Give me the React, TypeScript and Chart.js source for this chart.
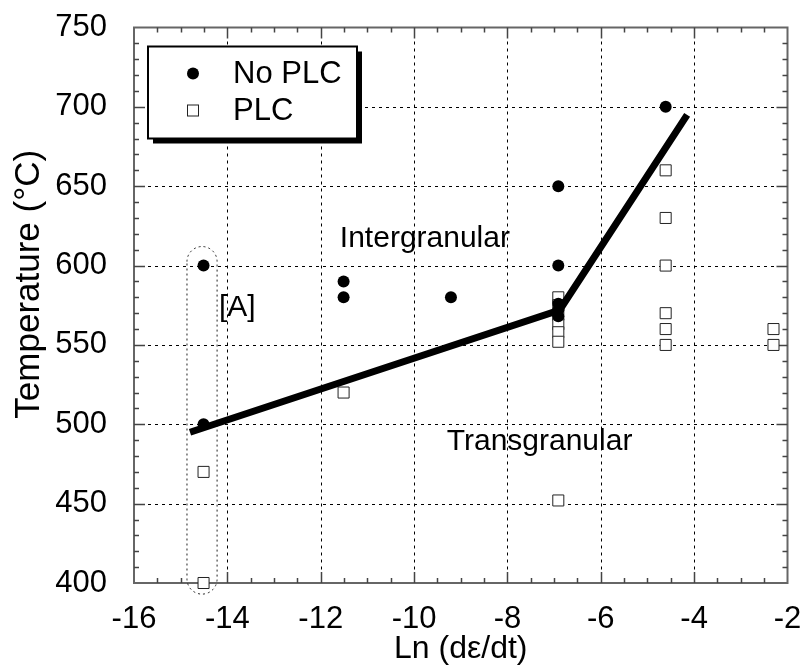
import React, { useEffect, useRef } from "react";
import { Chart, registerables } from "chart.js";

Chart.register(...registerables);

// ---- data ----
const noPlcX = [-14.51, -14.51, -11.51, -11.51, -9.21, -6.91, -6.91, -6.91, -6.91, -6.91, -4.61];
const noPlcY = [600, 500, 590, 580, 580, 650, 600, 576, 572, 568, 700];

const plcX = [-14.51, -14.51, -11.51, -6.91, -6.91, -6.91, -6.91, -6.91, -6.91, -6.91, -4.61, -4.61, -4.61, -4.61, -4.61, -4.61, -2.3, -2.3];
const plcY = [470, 400, 520, 580, 575, 569, 563, 558, 552, 452, 660, 630, 600, 570, 560, 550, 560, 550];

const boundaryX = [-14.8, -6.88, -4.15];
const boundaryY = [495, 572, 695];

const xTicks = { min: -16, max: -2, step: 2, minor: 0.5 };
const yTicks = { min: 400, max: 750, step: 50, minor: 10 };

const regionLabels = [
  { text: "Intergranular", x: -11.59, y: 612 },
  { text: "Transgranular", x: -9.3, y: 484 },
  { text: "[A]", x: -14.18, y: 568 },
];
// bounding region [A] in data units: x0, x1, y0, y1
const regionA = { x0: -14.865, x1: -14.22, y0: 393, y1: 612 };

const legendItems = ["No PLC", "PLC"];
const xTitle = "Ln (d\u03b5/dt)";
const yTitle = "Temperature (\u00b0C)";

const FONT = "'Liberation Sans', Arial, sans-serif";

const toPts = (xs: number[], ys: number[]) => xs.map((x, i) => ({ x, y: ys[i] }));

const decorPlugin = {
  id: "decor",
  beforeDatasetsDraw(chart: any) {
    const { ctx, chartArea: a, scales } = chart;
    const xs = scales.x, ys = scales.y;
    ctx.save();
    // dotted grid
    ctx.strokeStyle = "#000";
    ctx.lineWidth = 1;
    ctx.setLineDash([3, 4]);
    for (let v = xTicks.min + xTicks.step; v < xTicks.max - 1e-9; v += xTicks.step) {
      const px = Math.round(xs.getPixelForValue(v)) + 0.5;
      ctx.beginPath();
      ctx.moveTo(px, a.top);
      ctx.lineTo(px, a.bottom);
      ctx.stroke();
    }
    for (let v = yTicks.min + yTicks.step; v < yTicks.max - 1e-9; v += yTicks.step) {
      const py = Math.round(ys.getPixelForValue(v)) + 0.5;
      ctx.beginPath();
      ctx.moveTo(a.left, py);
      ctx.lineTo(a.right, py);
      ctx.stroke();
    }
    ctx.setLineDash([]);
    // frame
    ctx.strokeStyle = "#666";
    ctx.lineWidth = 2;
    ctx.strokeRect(a.left, a.top, a.right - a.left, a.bottom - a.top);
    // ticks
    ctx.lineWidth = 1.5;
    ctx.strokeStyle = "#444";
    const nx = Math.round((xTicks.max - xTicks.min) / xTicks.minor);
    for (let i = 1; i < nx; i++) {
      const v = xTicks.min + i * xTicks.minor;
      const major = Math.abs(v / xTicks.step - Math.round(v / xTicks.step)) < 1e-6;
      const len = major ? 11 : 5;
      const px = Math.round(xs.getPixelForValue(v)) + 0.5;
      ctx.beginPath();
      ctx.moveTo(px, a.bottom);
      ctx.lineTo(px, a.bottom - len);
      ctx.moveTo(px, a.top);
      ctx.lineTo(px, a.top + len);
      ctx.stroke();
    }
    const ny = Math.round((yTicks.max - yTicks.min) / yTicks.minor);
    for (let i = 1; i < ny; i++) {
      const v = yTicks.min + i * yTicks.minor;
      const major = Math.abs(v / yTicks.step - Math.round(v / yTicks.step)) < 1e-6;
      const len = major ? 11 : 5;
      const py = Math.round(ys.getPixelForValue(v)) + 0.5;
      ctx.beginPath();
      ctx.moveTo(a.left, py);
      ctx.lineTo(a.left + len, py);
      ctx.moveTo(a.right, py);
      ctx.lineTo(a.right - len, py);
      ctx.stroke();
    }
    // region [A] dotted rounded box
    const rx0 = xs.getPixelForValue(regionA.x0);
    const rx1 = xs.getPixelForValue(regionA.x1);
    const ry0 = ys.getPixelForValue(regionA.y1);
    const ry1 = ys.getPixelForValue(regionA.y0);
    const r = (rx1 - rx0) / 2;
    ctx.strokeStyle = "#222";
    ctx.lineWidth = 1;
    ctx.setLineDash([2, 3]);
    ctx.beginPath();
    ctx.moveTo(rx0, ry0 + r);
    ctx.arc(rx0 + r, ry0 + r, r, Math.PI, 0);
    ctx.lineTo(rx1, ry1 - r);
    ctx.arc(rx0 + r, ry1 - r, r, 0, Math.PI);
    ctx.closePath();
    ctx.stroke();
    ctx.setLineDash([]);
    ctx.restore();
  },
  afterDatasetsDraw(chart: any) {
    const { ctx, chartArea: a, scales } = chart;
    const xs = scales.x, ys = scales.y;
    ctx.save();
    // region labels
    ctx.fillStyle = "#000";
    ctx.textAlign = "left";
    ctx.textBaseline = "alphabetic";
    ctx.font = `30px ${FONT}`;
    regionLabels.forEach((l) => {
      ctx.fillText(l.text, xs.getPixelForValue(l.x), ys.getPixelForValue(l.y));
    });
    // legend box
    const bx = a.left + 14, by = a.top + 19, bw = 209, bh = 92;
    ctx.fillStyle = "#000";
    ctx.fillRect(bx + 5, by + 5, bw, bh);
    ctx.fillStyle = "#fff";
    ctx.fillRect(bx, by, bw, bh);
    ctx.strokeStyle = "#000";
    ctx.lineWidth = 2;
    ctx.strokeRect(bx, by, bw, bh);
    // legend markers
    ctx.beginPath();
    ctx.arc(bx + 45, by + 27, 6, 0, Math.PI * 2);
    ctx.fillStyle = "#000";
    ctx.fill();
    ctx.lineWidth = 1;
    ctx.strokeStyle = "#222";
    ctx.strokeRect(bx + 39.5, by + 58.5, 11, 11);
    ctx.font = `31px ${FONT}`;
    ctx.textBaseline = "middle";
    ctx.fillStyle = "#000";
    ctx.fillText(legendItems[0], bx + 85, by + 28);
    ctx.fillText(legendItems[1], bx + 85, by + 65);
    // axis titles
    ctx.font = `32px ${FONT}`;
    ctx.textAlign = "center";
    ctx.fillText(xTitle, (a.left + a.right) / 2, a.bottom + 66);
    ctx.save();
    ctx.translate(29, (a.top + a.bottom) / 2 - 21);
    ctx.rotate(-Math.PI / 2);
    ctx.font = `35px ${FONT}`;
    ctx.fillText(yTitle, 0, 0);
    ctx.restore();
    ctx.restore();
  },
};

export default function App() {
  const ref = useRef<HTMLCanvasElement>(null);
  useEffect(() => {
    if (!ref.current) return;
    const chart = new Chart(ref.current, {
      type: "scatter",
      data: {
        datasets: [
          {
            label: "boundary",
            data: toPts(boundaryX, boundaryY),
            showLine: true,
            borderColor: "#000",
            borderWidth: 7,
            borderCapStyle: "butt",
            borderJoinStyle: "miter",
            pointRadius: 0,
            order: 0,
            clip: false,
          } as any,
          {
            label: "No PLC",
            data: toPts(noPlcX, noPlcY),
            pointStyle: "circle",
            pointRadius: 6,
            backgroundColor: "#000",
            borderColor: "#000",
            borderWidth: 0,
            order: 1,
            clip: false,
          } as any,
          {
            label: "PLC",
            data: toPts(plcX, plcY),
            pointStyle: "rect",
            pointRadius: 7.8,
            backgroundColor: "#fff",
            borderColor: "#222",
            borderWidth: 1,
            order: 2,
            clip: false,
          } as any,
        ],
      },
      options: {
        animation: false,
        responsive: true,
        maintainAspectRatio: false,
        layout: { padding: { top: 27.5, right: 13.5, left: 0, bottom: 0 } },
        plugins: { legend: { display: false }, tooltip: { enabled: false } },
        scales: {
          x: {
            type: "linear",
            min: xTicks.min,
            max: xTicks.max,
            grid: { display: false },
            border: { display: false },
            ticks: {
              stepSize: xTicks.step,
              color: "#000",
              padding: 10,
              font: { family: FONT, size: 31 },
              maxRotation: 0,
            },
            afterFit: (s: any) => {
              s.height = 82;
              s.paddingLeft = 0;
              s.paddingRight = 0;
            },
          },
          y: {
            type: "linear",
            min: yTicks.min,
            max: yTicks.max,
            grid: { display: false },
            border: { display: false },
            ticks: {
              stepSize: yTicks.step,
              color: "#000",
              padding: 19,
              font: { family: FONT, size: 31 },
            },
            afterFit: (s: any) => {
              s.width = 134;
              s.paddingTop = 0;
              s.paddingBottom = 0;
            },
          },
        },
      },
      plugins: [decorPlugin],
    });
    return () => chart.destroy();
  }, []);
  return (
    <div style={{ position: "fixed", left: 0, top: 0, width: 801, height: 665, background: "#fff" }}>
      <canvas ref={ref} />
    </div>
  );
}
